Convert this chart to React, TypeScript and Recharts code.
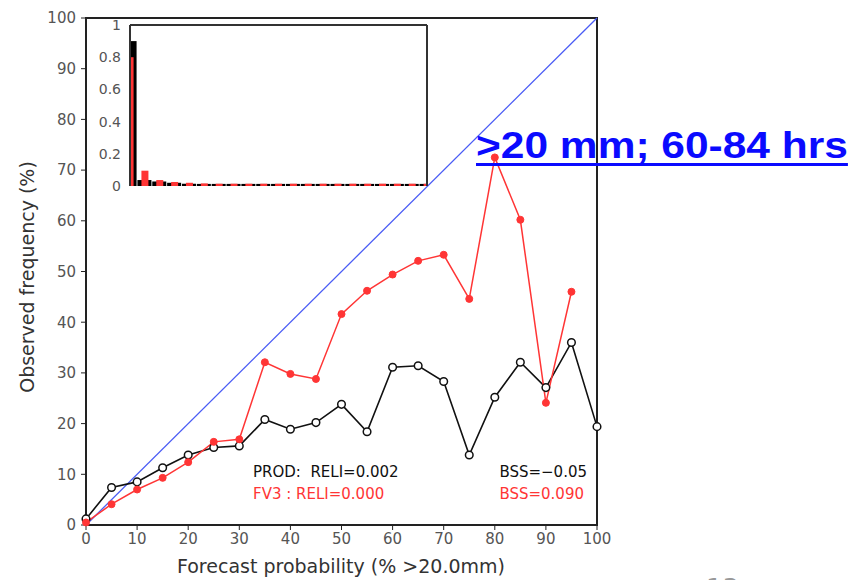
import { Bar, BarChart, Line, LineChart, ReferenceArea, ReferenceLine, XAxis, YAxis } from 'recharts';

// reliability diagram: forecast probability bins (%)
const FORECAST_PROB = [0, 5, 10, 15, 20, 25, 30, 35, 40, 45, 50, 55, 60, 65, 70, 75, 80, 85, 90, 95, 100];
const PROD_OBS = [1.2, 7.4, 8.5, 11.3, 13.8, 15.3, 15.6, 20.8, 18.9, 20.2, 23.8, 18.4, 31.1, 31.4, 28.3, 13.8, 25.2, 32.1, 27.1, 36.0, 19.4];
const FV3_OBS = [0.5, 4.1, 7.0, 9.3, 12.4, 16.4, 16.9, 32.1, 29.8, 28.8, 41.6, 46.2, 49.4, 52.1, 53.3, 44.6, 72.5, 60.2, 24.1, 46.0, null];
const AXIS_TICKS = [0, 10, 20, 30, 40, 50, 60, 70, 80, 90, 100];

// inset: sharpness histogram (relative frequency of forecasts per bin)
const PROD_SHARP = [0.9, 0.037, 0.028, 0.02, 0.014, 0.013, 0.013, 0.013, 0.013, 0.013, 0.013, 0.013, 0.013, 0.013, 0.013, 0.013, 0.013, 0.013, 0.013, 0.013, 0.013];
const FV3_SHARP = [0.8, 0.095, 0.037, 0.025, 0.02, 0.016, 0.014, 0.014, 0.014, 0.014, 0.014, 0.014, 0.014, 0.014, 0.014, 0.014, 0.014, 0.014, 0.014, 0.014, 0.014];
const INSET_TICKS = [0, 0.2, 0.4, 0.6, 0.8, 1];

const FONT = '"DejaVu Sans", sans-serif';
const RED = '#ff3535';

const rows = FORECAST_PROB.map((p, i) => ({ p, prod: PROD_OBS[i], fv3: FV3_OBS[i] }));
const insetRows = FORECAST_PROB.map((bin, i) => ({ bin, prod: PROD_SHARP[i], fv3: FV3_SHARP[i] }));

// inset plot bounds in its own svg coords, bars are cut at the frame
const INSET_LEFT = 50;
const INSET_RIGHT = 347;

function ClippedBar(props: any) {
  const { x, y, width, height, fill } = props;
  const left = Math.max(x, INSET_LEFT);
  const right = Math.min(x + width, INSET_RIGHT);
  if (right <= left || !height) return <g />;
  return <rect x={left} y={y} width={right - left} height={height} fill={fill} />;
}

function SharpnessInset() {
  return (
    <div style={{ position: 'absolute', left: 80, top: 15 }}>
      <BarChart
        width={360}
        height={180}
        data={insetRows}
        margin={{ top: 10, right: 13, bottom: 9, left: 0 }}
        style={{ fontFamily: FONT }}
      >
        <XAxis xAxisId="b" dataKey="bin" type="number" domain={[0, 100]} height={0} tick={false} tickLine={false} axisLine={false} />
        <XAxis xAxisId="r" dataKey="bin" type="number" domain={[0, 100]} hide />
        <YAxis
          type="number"
          domain={[0, 1]}
          ticks={INSET_TICKS}
          width={50}
          tickSize={4}
          tickMargin={5}
          tickLine={false}
          axisLine={false}
          tick={{ fill: '#555', fontSize: 14, fontFamily: FONT }}
          tickFormatter={(v: number) => (v === 0 || v === 1 ? String(v) : v.toFixed(1))}
        />
        {/* frame: top, left and right sides; the bottom is the dashed run of small bars */}
        <ReferenceLine xAxisId="b" segment={[{ x: 0, y: 0 }, { x: 0, y: 1 }, ]} stroke="#333" strokeWidth={2} />
        <ReferenceLine xAxisId="b" segment={[{ x: 0, y: 1 }, { x: 100, y: 1 }]} stroke="#333" strokeWidth={2} />
        <ReferenceLine xAxisId="b" segment={[{ x: 100, y: 1 }, { x: 100, y: 0 }]} stroke="#333" strokeWidth={2} />
        <Bar xAxisId="b" dataKey="prod" fill="#000" barSize={14} shape={ClippedBar} isAnimationActive={false} />
        <Bar xAxisId="r" dataKey="fv3" fill={RED} barSize={7} shape={ClippedBar} isAnimationActive={false} />
      </BarChart>
    </div>
  );
}

export default function App() {
  const axisLine = { stroke: '#222', strokeWidth: 2 };
  const tick = { fill: '#555', fontSize: 15, fontFamily: FONT };
  return (
    <div
      style={{
        position: 'absolute',
        left: 0,
        top: 0,
        width: 854,
        height: 580,
        overflow: 'hidden',
        background: '#fff',
      }}
    >
      <LineChart
        width={854}
        height={580}
        data={rows}
        margin={{ top: 18, right: 257, bottom: 0, left: 0 }}
        style={{ fontFamily: FONT }}
      >
        <XAxis
          dataKey="p"
          type="number"
          domain={[0, 100]}
          ticks={AXIS_TICKS}
          height={55}
          tickSize={5}
          tickMargin={3}
          axisLine={axisLine}
          tickLine={{ stroke: '#222' }}
          tick={tick}
        />
        <YAxis
          type="number"
          domain={[0, 100]}
          ticks={AXIS_TICKS}
          width={86}
          tickSize={5}
          tickMargin={5}
          axisLine={axisLine}
          tickLine={{ stroke: '#222' }}
          tick={tick}
        />
        <ReferenceArea x1={0} x2={100} y1={0} y2={100} fill="none" stroke="#222" strokeWidth={2} />
        <ReferenceLine
          segment={[{ x: 0, y: 0 }, { x: 100, y: 100 }]}
          stroke="#4a5cf5"
          strokeWidth={1.3}
          ifOverflow="visible"
        />
        <Line
          dataKey="prod"
          stroke="#111"
          strokeWidth={1.6}
          dot={{ r: 3.8, fill: '#fff', stroke: '#111', strokeWidth: 1.5 }}
          isAnimationActive={false}
        />
        <Line
          dataKey="fv3"
          stroke={RED}
          strokeWidth={1.5}
          dot={{ r: 3.5, fill: RED, stroke: RED, strokeWidth: 1 }}
          isAnimationActive={false}
        />
      </LineChart>

      <SharpnessInset />

      <svg width={854} height={580} style={{ position: 'absolute', left: 0, top: 0, pointerEvents: 'none' }}>
        <text
          transform="translate(27,277) rotate(-90)"
          textAnchor="middle"
          dominantBaseline="central"
          fontSize={19}
          fontFamily={FONT}
          fill="#333"
        >
          Observed frequency (%)
        </text>
        <text x={341} y={566} textAnchor="middle" dominantBaseline="central" fontSize={19} fontFamily={FONT} fill="#333">
          Forecast probability (% &gt;20.0mm)
        </text>
        <text x={253} y={477} fontSize={15} fontFamily={FONT} fill="#111" style={{ whiteSpace: 'pre' }}>
          {'PROD:  RELI=0.002'}
        </text>
        <text x={587} y={477} textAnchor="end" fontSize={15} fontFamily={FONT} fill="#111">
          BSS=−0.05
        </text>
        <text x={253} y={499} fontSize={15} fontFamily={FONT} fill={RED} style={{ whiteSpace: 'pre' }}>
          {'FV3 : RELI=0.000'}
        </text>
        <text x={584} y={499} textAnchor="end" fontSize={15} fontFamily={FONT} fill={RED}>
          BSS=0.090
        </text>
        <text x={706} y={598} fontSize={26} fontFamily={FONT} fill="#999">
          13
        </text>
      </svg>

      <div
        style={{
          position: 'absolute',
          left: 476,
          top: 128,
          fontFamily: '"Liberation Sans", Arial, sans-serif',
          fontWeight: 'bold',
          fontSize: 36,
          lineHeight: '36px',
          color: '#0a0aff',
          whiteSpace: 'nowrap',
          textDecoration: 'underline',
          textDecorationThickness: '3px',
          textUnderlineOffset: '5px',
          textDecorationSkipInk: 'none',
          transform: 'scaleX(1.18)',
          transformOrigin: 'left top',
        }}
      >
        &gt;20 mm; 60-84 hrs
      </div>
    </div>
  );
}
